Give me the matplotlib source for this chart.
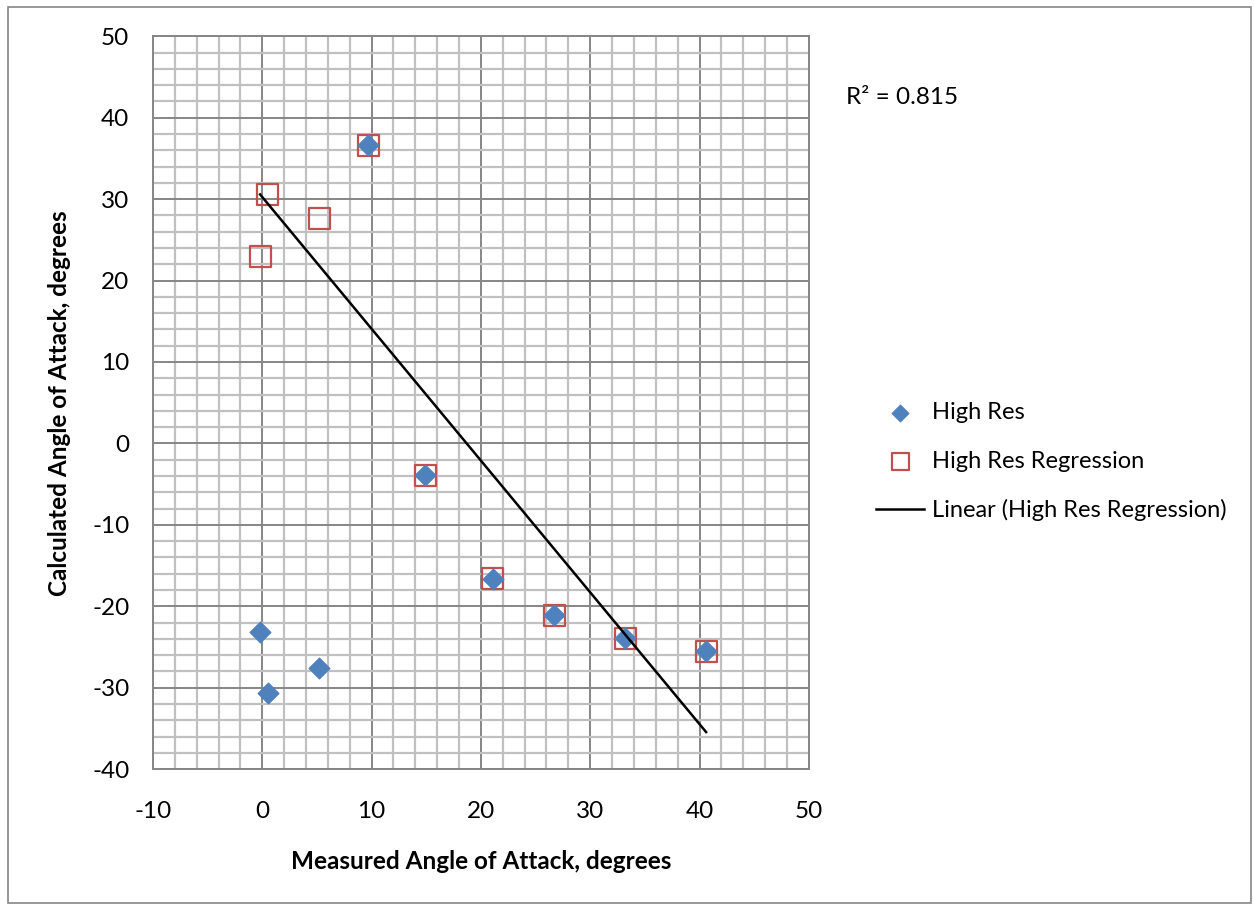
import numpy as np
import matplotlib
matplotlib.use("Agg")
import matplotlib.pyplot as plt
from matplotlib.patches import Rectangle
from matplotlib.ticker import MultipleLocator

plt.rcParams['font.family'] = ['Lato', 'DejaVu Sans']
plt.rcParams['axes.unicode_minus'] = False

# measured angle of attack (deg)
measured = [-0.2, 0.5, 5.2, 9.7, 14.9, 21.1, 26.7, 33.2, 40.6]
# calculated angle, high res
high_res = [-23.1, -30.6, -27.6, 36.6, -3.9, -16.6, -21.1, -23.9, -25.5]
# calculated angle, high res regression
high_res_reg = [23.0, 30.6, 27.6, 36.6, -3.9, -16.6, -21.1, -23.9, -25.5]

fig = plt.figure(figsize=(12.54, 9.07), dpi=100)
ax = fig.add_axes([0.122, 0.152, 0.523, 0.808])

ax.set_xlim(-10, 50)
ax.set_ylim(-40, 50)
ax.xaxis.set_major_locator(MultipleLocator(10))
ax.yaxis.set_major_locator(MultipleLocator(10))
ax.xaxis.set_minor_locator(MultipleLocator(2))
ax.yaxis.set_minor_locator(MultipleLocator(2))
ax.grid(which='minor', color='#c0c0c0', lw=1.6, zorder=0)
ax.grid(which='major', color='#868686', lw=1.4, zorder=0)
ax.tick_params(which='both', length=0, labelsize=17.5)
ax.tick_params(axis='x', pad=23)
ax.tick_params(axis='y', pad=17)
for s in ax.spines.values():
    s.set_color('#868686')
    s.set_linewidth(1.4)
ax.set_axisbelow(True)

ax.scatter(measured, high_res_reg, marker='s', s=230, facecolor='none',
           edgecolor='#c0504d', linewidth=1.6, zorder=3, label='High Res Regression')
ax.scatter(measured, high_res, marker='D', s=110, color='#4f81bd',
           zorder=4, label='High Res')

# linear trendline of regression series
x = np.array(measured)
y = np.array(high_res_reg)
k, b = np.polyfit(x, y, 1)
xs = np.array([x.min(), x.max()])
ax.plot(xs, k * xs + b, color='black', lw=1.8, zorder=5,
        label='Linear (High Res Regression)')

ax.set_xlabel('Measured Angle of Attack, degrees', fontsize=17.5,
              fontweight='bold', labelpad=20)
ax.set_ylabel('Calculated Angle of Attack, degrees', fontsize=17.5,
              fontweight='bold', labelpad=15)

fig.text(0.675, 0.893, 'R² = 0.815', fontsize=17.5, va='center')

h, l = ax.get_legend_handles_labels()
order = [1, 0, 2]
fig.legend([h[i] for i in order], [l[i] for i in order], loc='center left',
           bbox_to_anchor=(0.682, 0.491), frameon=False, fontsize=17,
           handlelength=2.0, handletextpad=0.35, labelspacing=1.15,
           markerscale=0.8)

fig.patches.append(Rectangle((0.006, 0.004), 0.992, 0.988, transform=fig.transFigure,
                             fill=False, edgecolor='#868686', lw=1.2))

fig.savefig('out.png', dpi=100)
